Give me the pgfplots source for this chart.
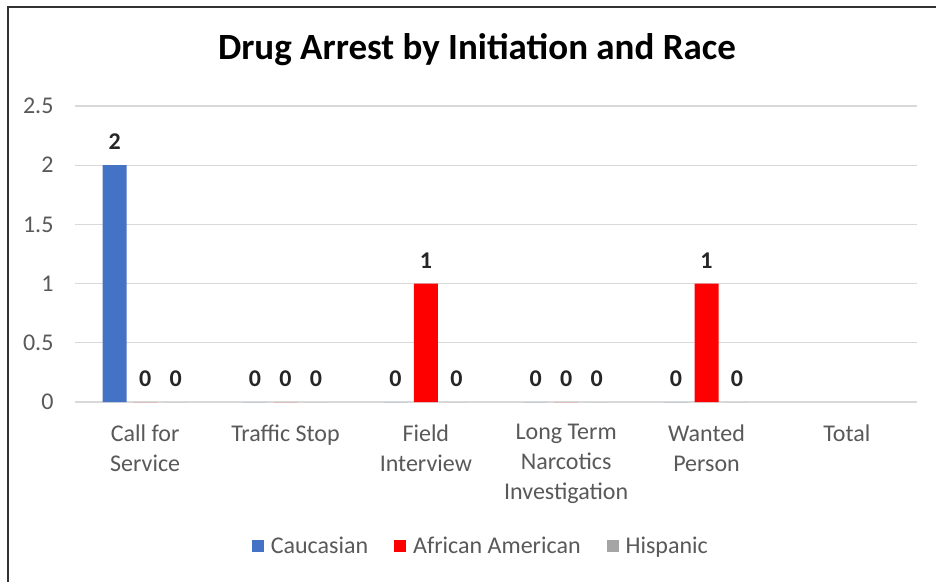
\documentclass[border=0pt]{standalone}
\usepackage{pgfplots}
\pgfplotsset{compat=1.18}
\usepackage{fontspec}
\setmainfont{Carlito}
\definecolor{cauc}{HTML}{4472C4}
\definecolor{afam}{HTML}{FF0000}
\definecolor{hisp}{HTML}{A5A5A5}
\definecolor{gridgray}{HTML}{D9D9D9}
\definecolor{labgray}{HTML}{595959}
\definecolor{vallab}{HTML}{262626}

\begin{document}
\begin{tikzpicture}
\useasboundingbox (0pt,0pt) rectangle (936pt,582pt);
\fill[white] (0pt,0pt) rectangle (936pt,582pt);
% chart frame (left and top edges)
\draw[line width=2pt,black!80] (8pt,0pt) -- (8pt,575pt) -- (936pt,575pt);
% title
\node[font=\fontsize{37}{44}\selectfont\bfseries] at (477pt,532pt) {Drug Arrest by Initiation and Race};
\begin{axis}[
  at={(75pt,180pt)}, anchor=south west,
  scale only axis, width=842pt, height=296pt,
  xmin=-0.5, xmax=5.5, ymin=0, ymax=2.5,
  ytick={0,0.5,...,2.5},
  xtick={0,1,2,3,4,5},
  xticklabels={Call for\\Service, Traffic Stop, Field\\Interview, Long Term\\Narcotics\\Investigation, Wanted\\Person, Total},
  xticklabel style={align=center, font=\fontsize{24}{30}\selectfont, text=labgray, yshift=-19pt},
  yticklabel style={font=\fontsize{24}{28}\selectfont, text=labgray, xshift=-18pt},
  /pgf/number format/assume math mode=true,
  yticklabel={\pgfmathprintnumber{\tick}},
  major tick length=0pt,
  axis line style={draw=none},
  ymajorgrids, grid style={gridgray, line width=1.2pt},
  ybar, bar width=24pt,
  nodes near coords,
  every node near coord/.append style={font=\fontsize{24}{28}\selectfont\bfseries, text=vallab, yshift=12pt},
  legend style={at={(0.482,-0.485)}, anchor=center, draw=none, legend columns=-1,
    font=\fontsize{24}{28}\selectfont, text=labgray,
    /tikz/every odd column/.append style={column sep=5pt},
    /tikz/every even column/.append style={column sep=24pt}},
  legend image code/.code={\fill[#1] (0pt,-6pt) rectangle (12pt,6pt);},
]
\addplot[fill=cauc, draw=none, bar shift=-30.5pt] coordinates {(0,2) (1,0) (2,0) (3,0) (4,0)};
\addplot[fill=afam, draw=none, bar shift=0pt] coordinates {(0,0) (1,0) (2,1) (3,0) (4,1)};
\addplot[fill=hisp, draw=none, bar shift=30.5pt] coordinates {(0,0) (1,0) (2,0) (3,0) (4,0)};
\legend{Caucasian, African American, Hispanic}
\end{axis}
\end{tikzpicture}
\end{document}
